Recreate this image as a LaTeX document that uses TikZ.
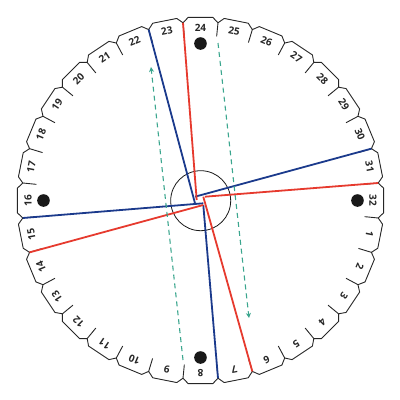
\documentclass[tikz,border=0pt]{standalone}
\usepackage{fontspec}
\setmainfont{Open Sans}
\usetikzlibrary{arrows.meta}
\definecolor{threadblue}{HTML}{1B3A8C}
\definecolor{threadred}{HTML}{E63A2E}
\definecolor{guide}{HTML}{3BA68E}
\begin{document}
\begin{tikzpicture}[x=1pt,y=1pt,
  outline/.style={line width=0.9pt, black!85, line join=round},
  slit/.style={line width=0.9pt, black!85},
  slotnum/.style={font=\bfseries\fontsize{10}{10}\selectfont, inner sep=0pt, text=black!85},
  hole/.style={circle, fill=black!90, minimum size=12.6pt, inner sep=0pt},
  hub/.style={circle, draw=black!90, line width=0.8pt, minimum size=60pt, inner sep=0pt},
  blueline/.style={line width=1.8pt, threadblue},
  redline/.style={line width=1.8pt, threadred},
  guideline/.style={line width=1.1pt, guide, dash pattern=on 5pt off 4pt, -{Stealth[length=5pt,width=5pt]}},
]
\useasboundingbox (-200.5,-199.5) rectangle (199.5,200.5);
% disk outline with 32 tabs
\draw[outline] (95.625:178.6)
  \foreach \n in {0,...,31}{
    -- ({90-\n*11.25+3.825}:183.6) -- ({90-\n*11.25-3.825}:183.6) -- ({90-\n*11.25-5.625}:178.6)
  } -- cycle;
% slits
\foreach \k in {0,...,31}
  \draw[slit] ({95.625-\k*11.25}:165) -- ({95.625-\k*11.25}:178.6);
% boundary coordinates: b\k between slot k and k+1
\foreach \k in {1,...,32}
  \coordinate (b\k) at ({90-(\k-23.5)*11.25}:178.6);
% slot numbers
\foreach \n in {1,...,32}
  \node[slotnum, rotate={-(\n-24)*11.25}] (s\n) at ({90-(\n-24)*11.25}:172.5) {\n};
% holes
\node[hole] (h24) at (90:157) {};
\node[hole] (h32) at (0:157) {};
\node[hole] (h8) at (270:157) {};
\node[hole] (h16) at (180:157) {};
% hub circle
\node[hub] (hub) at (0.2,-0.2) {};
% centre end points
\coordinate (cbt) at (-5.5,-2.8);
\coordinate (cbr) at (-5.5,3.8);
\coordinate (cbl) at (2.8,-2.8);
\coordinate (cbb) at (2.8,-4.5);
\coordinate (crt) at (-3.8,0.5);
\coordinate (crr) at (4.5,3.8);
\coordinate (crl) at (2.8,-4.5);
\coordinate (crb) at (2.8,3.8);
% threads
\draw[blueline] (b22) -- (cbt);
\draw[blueline] (b30) -- (cbr);
\draw[blueline] (b15) -- (cbl);
\draw[blueline] (cbb) -- (b7);
\draw[redline] (b23) -- (crt);
\draw[redline] (b31) -- (crr);
\draw[redline] (b14) -- (crl);
\draw[redline] (crb) -- (b6);
% guide arrows
\coordinate (gl0) at (-17.5,-159.5);
\coordinate (gl1) at (-49.5,133.5);
\coordinate (gr0) at (17.5,157.5);
\coordinate (gr1) at (48.5,-117.5);
\draw[guideline] (gl0) -- (gl1);
\draw[guideline] (gr0) -- (gr1);
\end{tikzpicture}
\end{document}
